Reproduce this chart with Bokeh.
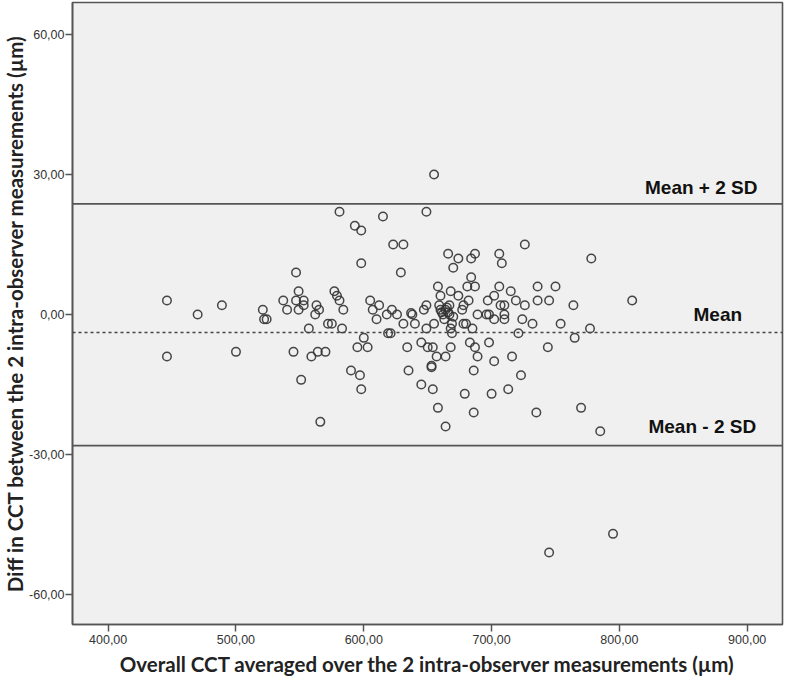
from bokeh.plotting import figure
from bokeh.models import ColumnDataSource, Span, Label, FixedTicker, Range1d, Title
from bokeh.embed import file_html
from bokeh.resources import INLINE

# Bland-Altman data: mean of the two measurements (x) and their difference (y)
avg_cct = [446, 446, 470, 489, 500, 521, 522, 524, 537, 540, 545, 547, 547, 549, 549,
           551, 553, 553, 557, 559, 563, 564, 565, 562, 566, 570, 572, 575, 577, 579,
           581, 581, 583, 584, 590, 593, 595, 597, 598, 598, 598, 600, 603, 605, 607,
           610, 612, 615, 618, 619, 621, 622, 623, 626, 629, 631, 631, 634, 635, 638,
           637, 640, 645, 645, 647, 649, 649, 649, 650, 653, 653, 654, 654, 655, 655,
           657, 658, 658, 660, 660, 662, 663, 664, 664, 664, 666, 666, 667, 668, 668,
           668, 669, 669, 670, 670, 674, 674, 677, 678, 678, 679, 681, 680, 682, 683,
           684, 684, 685, 686, 687, 687, 687, 686, 689, 689, 696, 697, 698, 698, 700,
           702, 702, 702, 706, 706, 707, 708, 710, 710, 710, 713, 715, 716, 719, 721,
           723, 724, 726, 726, 732, 735, 736, 736, 744, 745, 750, 754, 764, 765, 770,
           777, 778, 785, 810, 745, 795, 659, 661, 665, 667]
diff_cct = [3, -9, 0, 2, -8, 1, -1, -1, 3, 1, -8, 9, 3, 5, 1,
            -14, 3, 2, -3, -9, 2, -8, 1, 0, -23, -8, -2, -2, 5, 4,
            3, 22, -3, 1, -12, 19, -7, -13, 18, 11, -16, -5, -7, 3, 1,
            -1, 2, 21, 0, -4, -4, 1, 15, 0, 9, 15, -2, -7, -12, 0,
            0.3, -2, -15, -6, 1, 2, -3, 22, -7, -11, -11.3, -7, -16, -2, 30,
            -9, 6, -20, 4, 1, 0, -1, -9, 1, -24, 13, 0.5, 2, 5, -3,
            -7, -2, -4, 10, -0.5, 12, 4, 1, 2, -2, -17, 6, -2, 3, -6,
            8, 12, -3, -21, 13, 6, -7, -12, 0, -9, 0, 3, 0, -6, -17,
            4, -1, -10, 13, 6, 2, 11, 2, 0, -1, -16, 5, -9, 3, -4,
            -13, -1, 15, 2, -2, -21, 3, 6, -7, 3, 6, -2, 2, -5, -20,
            -3, 12, -25, 3, -51, -47, 2, 0.5, 1.5, 0]

mean_diff = -3.86
upper_loa = 23.7
lower_loa = -28.1

x_ticks = [400, 500, 600, 700, 800, 900]
x_tick_labels = ["400,00", "500,00", "600,00", "700,00", "800,00", "900,00"]
y_ticks = [-60, -30, 0, 30, 60]
y_tick_labels = ["-60,00", "-30,00", "0,00", "30,00", "60,00"]

src = ColumnDataSource(dict(x=avg_cct, y=diff_cct))

p = figure(width=786, height=685, output_backend="svg", toolbar_location=None,
           x_range=Range1d(372.1, 927.6), y_range=Range1d(-66.42, 66.85),
           min_border_left=72, min_border_right=4, min_border_top=2, min_border_bottom=61)

p.background_fill_color = "#F0F0F0"
p.border_fill_color = "white"
p.outline_line_color = "#555555"
p.outline_line_width = 1.6
p.grid.visible = False

for ax in (p.xaxis[0], p.yaxis[0]):
    ax.axis_line_color = "#555555"
    ax.axis_line_width = 1.6
    ax.major_tick_line_color = "#555555"
    ax.major_tick_line_width = 1.5
    ax.major_tick_out = 7
    ax.major_tick_in = 0
    ax.minor_tick_line_color = None
    ax.major_label_text_font = "Liberation Sans"
    ax.major_label_text_font_size = "12.5px"
    ax.major_label_text_color = "#333333"
    ax.axis_label_text_font = "Lato"
    ax.axis_label_text_font_style = "bold"
    ax.axis_label_text_font_size = "20.5px"
    ax.axis_label_text_color = "#222222"

p.xaxis.ticker = FixedTicker(ticks=x_ticks)
p.xaxis.major_label_overrides = dict(zip(x_ticks, x_tick_labels))
p.yaxis.ticker = FixedTicker(ticks=y_ticks)
p.yaxis.major_label_overrides = dict(zip(y_ticks, y_tick_labels))
p.xaxis.major_label_standoff = 3
p.yaxis.major_label_standoff = 1
p.xaxis.axis_label_standoff = 5
p.xaxis.axis_label = "Overall CCT averaged over the 2 intra-observer measurements (µm)"

# y-axis title as a left-side title (keeps the frame edge at a fixed place)
p.add_layout(Title(text="Diff in CCT between the 2 intra-observer measurements (µm)",
                   align="center", text_font="Lato", text_font_style="bold",
                   text_font_size="20.5px", text_color="#222222", standoff=0,
                   offset=0, text_line_height=1.0), "left")

p.add_layout(Span(location=upper_loa, dimension="width", line_color="#555555", line_width=1.6))
p.add_layout(Span(location=lower_loa, dimension="width", line_color="#555555", line_width=1.6))
p.add_layout(Span(location=mean_diff, dimension="width", line_color="#444444",
                  line_width=1.5, line_dash="3 3"))

p.scatter("x", "y", source=src, marker="circle", size=8.5, fill_color=None,
          line_color="#333333", line_width=1.5, line_alpha=0.9)

lab_style = dict(text_font="Liberation Sans", text_font_style="bold", text_font_size="19px",
                 text_color="#111111", text_align="right", text_baseline="middle")
p.add_layout(Label(x=908, y=27.3, text="Mean + 2 SD", **lab_style))
p.add_layout(Label(x=896, y=0.0, text="Mean", **lab_style))
p.add_layout(Label(x=907, y=-24.1, text="Mean - 2 SD", **lab_style))

open("out.html", "w").write(file_html(p, INLINE))
